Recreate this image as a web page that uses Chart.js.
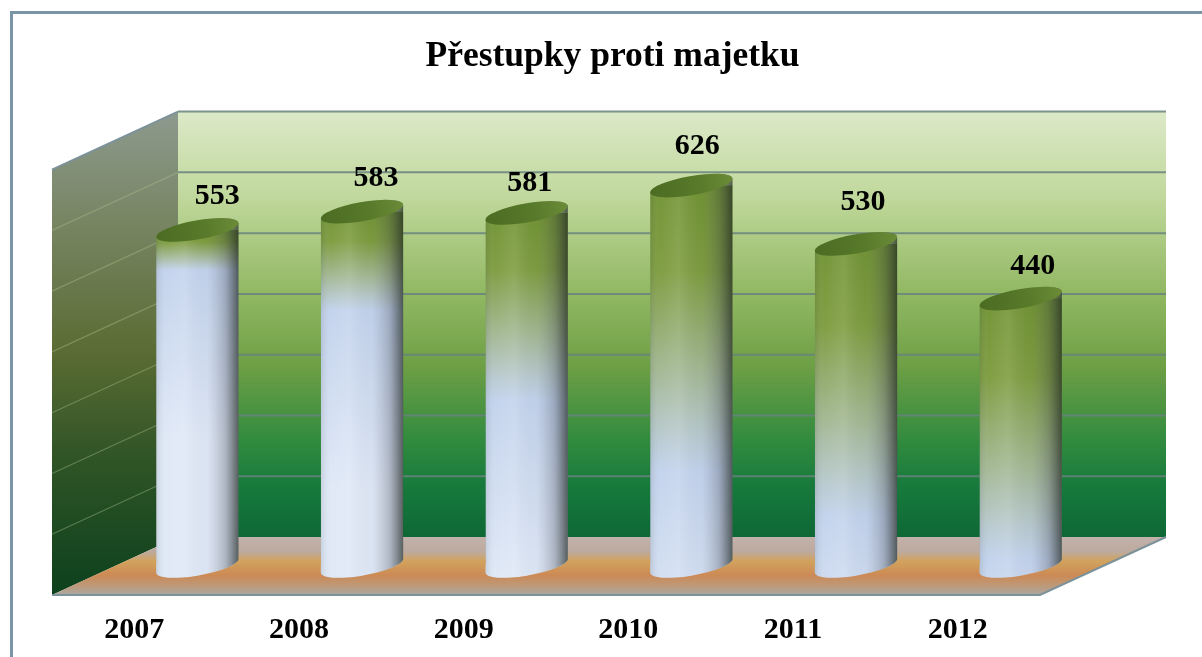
<!DOCTYPE html>
<html>
<head>
<meta charset="utf-8">
<title>Přestupky proti majetku</title>
<script src="https://cdn.jsdelivr.net/npm/chart.js@4"></script>
<style>
    html, body { margin: 0; padding: 0; background: #fff; }
    /* the reference is a soft scan */
    #chart { display: block; filter: blur(0.5px); }
</style>
</head>
<body>
<canvas id="chart" width="1202" height="657"></canvas>
<script>
// data
const years = ['2007', '2008', '2009', '2010', '2011', '2012'];
const offences = [553, 583, 581, 626, 530, 440];
const chartTitle = 'Přestupky proti majetku';
const axisMax = 700;
const axisStep = 100;

// where each bar has turned from green to blue (share of its height)
const blueStart = [0.12, 0.28, 0.53, 0.75, 0.85, 0.97];
// value label nudges
const labelDx = [20, 14, 3, 6, 7, 12];
const labelDy = [-34, -33, -30, -39, -42, -32];

const FONT = "'Liberation Serif', serif";
const DEPTH_X = 63;
const DEPTH_Y = 29;
const TILT = -10 * Math.PI / 180;
const ELLIPSE_B = 9.5;

// walls and floor of the 3d box, hung off the scales
function drawBox(chart) {
    const ctx = chart.ctx;
    const area = chart.chartArea;
    const y = chart.scales.y;
    const zero = y.getPixelForValue(0);
    const top = y.getPixelForValue(axisMax);
    const fl = area.left - DEPTH_X, fr = area.right - DEPTH_X;
    const bl = area.left + DEPTH_X, br = area.right + DEPTH_X;

    // back wall
    let g = ctx.createLinearGradient(0, top - DEPTH_Y, 0, zero - DEPTH_Y);
    g.addColorStop(0, '#dce9c8');
    g.addColorStop(0.2, '#c0d89c');
    g.addColorStop(0.42, '#93b964');
    g.addColorStop(0.6, '#6d9f45');
    g.addColorStop(0.78, '#2f8a3e');
    g.addColorStop(0.88, '#177a3c');
    g.addColorStop(1, '#0e6835');
    ctx.fillStyle = g;
    ctx.fillRect(bl, top - DEPTH_Y, br - bl, zero - top);

    // left wall
    g = ctx.createLinearGradient(0, top - DEPTH_Y, 0, zero + DEPTH_Y);
    g.addColorStop(0, '#8d9a8e');
    g.addColorStop(0.25, '#75835f');
    g.addColorStop(0.5, '#5a6b33');
    g.addColorStop(0.72, '#2f5426');
    g.addColorStop(1, '#0c411d');
    ctx.fillStyle = g;
    ctx.beginPath();
    ctx.moveTo(fl, top + DEPTH_Y);
    ctx.lineTo(bl, top - DEPTH_Y);
    ctx.lineTo(bl, zero - DEPTH_Y);
    ctx.lineTo(fl, zero + DEPTH_Y);
    ctx.closePath();
    ctx.fill();

    // floor
    g = ctx.createLinearGradient(0, zero - DEPTH_Y, 0, zero + DEPTH_Y);
    g.addColorStop(0, '#c2b2ab');
    g.addColorStop(0.25, '#bdaa9f');
    g.addColorStop(0.42, '#d2a25c');
    g.addColorStop(0.66, '#cc8a55');
    g.addColorStop(0.87, '#bb9c80');
    g.addColorStop(1, '#a8a8a4');
    ctx.fillStyle = g;
    ctx.beginPath();
    ctx.moveTo(fl, zero + DEPTH_Y);
    ctx.lineTo(bl, zero - DEPTH_Y);
    ctx.lineTo(br, zero - DEPTH_Y);
    ctx.lineTo(fr, zero + DEPTH_Y);
    ctx.closePath();
    ctx.fill();

    // grid lines, back wall then left wall
    y.ticks.forEach((tick) => {
        const p = y.getPixelForValue(tick.value);
        if (tick.value > 0) {
            ctx.strokeStyle = 'rgba(105,130,125,0.85)';
            ctx.lineWidth = 2;
            ctx.beginPath();
            ctx.moveTo(bl, p - DEPTH_Y);
            ctx.lineTo(br, p - DEPTH_Y);
            ctx.stroke();
            if (tick.value < axisMax) {
                ctx.strokeStyle = 'rgba(170,190,140,0.42)';
                ctx.lineWidth = 1.2;
                ctx.beginPath();
                ctx.moveTo(fl, p + DEPTH_Y);
                ctx.lineTo(bl, p - DEPTH_Y);
                ctx.stroke();
            }
        }
    });

    // box edges
    ctx.strokeStyle = '#7c929a';
    ctx.lineWidth = 2;
    ctx.beginPath();
    ctx.moveTo(fl, top + DEPTH_Y);
    ctx.lineTo(bl, top - DEPTH_Y);
    ctx.stroke();
    ctx.beginPath();
    ctx.moveTo(fl, zero + DEPTH_Y);
    ctx.lineTo(fr, zero + DEPTH_Y);
    ctx.lineTo(br, zero - DEPTH_Y);
    ctx.stroke();
}

// long radius so that the tilted ellipse is exactly as wide as the bar
function ellipseA(bar) {
    const half = bar.width / 2;
    const s = ELLIPSE_B * Math.sin(TILT);
    return Math.sqrt(half * half - s * s) / Math.cos(TILT);
}

// outline of one cylinder, added to the current path
function addCylinder(ctx, bar) {
    const a = ellipseA(bar);
    const tip = Math.atan(-(ELLIPSE_B / a) * Math.tan(TILT));
    const p = tip + Math.PI;
    ctx.moveTo(
        bar.x + a * Math.cos(p) * Math.cos(TILT) - ELLIPSE_B * Math.sin(p) * Math.sin(TILT),
        bar.y + a * Math.cos(p) * Math.sin(TILT) + ELLIPSE_B * Math.sin(p) * Math.cos(TILT)
    );
    ctx.ellipse(bar.x, bar.y, a, ELLIPSE_B, TILT, p, tip + 2 * Math.PI);
    ctx.ellipse(bar.x, bar.base, a, ELLIPSE_B, TILT, tip, p);
    ctx.closePath();
}

function bodyGradient(ctx, top, base, turn) {
    const h = base - top;
    const g = ctx.createLinearGradient(0, top, 0, top + (turn + 0.5) * h);
    const span = turn / (turn + 0.5);
    g.addColorStop(0, '#6f9130');
    g.addColorStop(span * 0.3, '#7c9b3c');
    g.addColorStop(span * 0.65, '#a2b792');
    g.addColorStop(span * 0.88, '#b8c9cf');
    g.addColorStop(span, '#c2d2ec');
    g.addColorStop(1, '#dfe8f6');
    return g;
}

const cylinderPlugin = {
    id: 'cylinders',
    afterLayout(chart) {
        // title sits a little right of the plot centre
        chart.titleBlock.left += 3.5;
        chart.titleBlock.right += 3.5;
    },
    beforeDatasetDraw(chart, args) {
        // keep the library's rectangles inside the cylinder outline
        const ctx = chart.ctx;
        ctx.save();
        ctx.beginPath();
        chart.getDatasetMeta(args.index).data.forEach((bar) => addCylinder(ctx, bar));
        ctx.clip();
    },
    afterDatasetDraw(chart, args) {
        const ctx = chart.ctx;
        ctx.restore();
        chart.getDatasetMeta(args.index).data.forEach((bar, i) => {
            ctx.save();
            ctx.beginPath();
            addCylinder(ctx, bar);
            ctx.clip();

            // foot of the cylinder below the bar's base
            ctx.fillStyle = bodyGradient(ctx, bar.y, bar.base, blueStart[i]);
            ctx.fillRect(bar.x - bar.width, bar.base - 1, bar.width * 2, 30);

            // round shading
            const left = bar.x - bar.width / 2;
            const s = ctx.createLinearGradient(left, 0, left + bar.width, 0);
            s.addColorStop(0, 'rgba(80,95,100,0.16)');
            s.addColorStop(0.12, 'rgba(255,255,255,0.04)');
            s.addColorStop(0.35, 'rgba(255,255,255,0.12)');
            s.addColorStop(0.62, 'rgba(120,125,140,0.04)');
            s.addColorStop(0.84, 'rgba(60,65,75,0.3)');
            s.addColorStop(1, 'rgba(34,42,36,0.72)');
            ctx.fillStyle = s;
            ctx.fillRect(left - 2, bar.y - 20, bar.width + 4, bar.base - bar.y + 50);
            ctx.restore();

            // lid
            const a = ellipseA(bar);
            const lid = ctx.createLinearGradient(left, bar.y + 8, left + bar.width, bar.y - 8);
            lid.addColorStop(0, '#4b6c22');
            lid.addColorStop(0.6, '#587a2a');
            lid.addColorStop(1, '#6b8b38');
            ctx.fillStyle = lid;
            ctx.beginPath();
            ctx.ellipse(bar.x, bar.y, a, ELLIPSE_B, TILT, 0, 2 * Math.PI);
            ctx.fill();
        });
    },
    afterDatasetsDraw(chart) {
        // value labels
        const ctx = chart.ctx;
        ctx.save();
        ctx.fillStyle = '#000';
        ctx.font = 'bold 30px ' + FONT;
        ctx.textAlign = 'center';
        ctx.textBaseline = 'middle';
        chart.getDatasetMeta(0).data.forEach((bar, i) => {
            ctx.fillText(String(offences[i]), bar.x + labelDx[i], bar.y + labelDy[i]);
        });
        ctx.restore();
    },
    beforeDatasetsDraw(chart) {
        drawBox(chart);
    },
    beforeDraw(chart) {
        // frame: only the top and left edges are visible
        const ctx = chart.ctx;
        ctx.fillStyle = '#fff';
        ctx.fillRect(0, 0, chart.width, chart.height);
        ctx.fillStyle = '#7a96a6';
        ctx.fillRect(10, 11, chart.width - 10, 3);
        ctx.fillRect(10, 11, 3, chart.height - 11);
    }
};

new Chart(document.getElementById('chart').getContext('2d'), {
    type: 'bar',
    data: {
        labels: years,
        datasets: [{
            label: chartTitle,
            data: offences,
            barPercentage: 0.5,
            categoryPercentage: 1,
            backgroundColor: function(context) {
                const y = context.chart.scales.y;
                if (!y || context.dataIndex === undefined) return '#c2d2ee';
                const top = y.getPixelForValue(offences[context.dataIndex]);
                const base = y.getPixelForValue(0);
                // the first pass runs before the layout has sized the scale
                if (!Number.isFinite(top) || !Number.isFinite(base)) return '#c2d2ee';
                return bodyGradient(context.chart.ctx, top, base, blueStart[context.dataIndex]);
            }
        }]
    },
    plugins: [cylinderPlugin],
    options: {
        responsive: false,
        animation: false,
        layout: { padding: { left: 115, right: 99, top: 0, bottom: 0 } },
        scales: {
            x: {
                grid: { display: false },
                border: { display: false },
                afterFit: function(scale) {
                    scale.height = 91;
                },
                ticks: {
                    color: '#000',
                    font: { family: FONT, size: 30, weight: 'bold' },
                    labelOffset: -DEPTH_X,
                    padding: 38,
                    maxRotation: 0
                }
            },
            y: {
                display: false,
                min: 0,
                max: axisMax,
                ticks: { stepSize: axisStep }
            }
        },
        plugins: {
            legend: { display: false },
            tooltip: { enabled: false },
            title: {
                display: true,
                text: chartTitle,
                fullSize: false,
                color: '#000',
                font: { family: FONT, size: 35.5, weight: 'bold' },
                padding: { top: 36, bottom: 62 }
            }
        }
    }
});
</script>
</body>
</html>
